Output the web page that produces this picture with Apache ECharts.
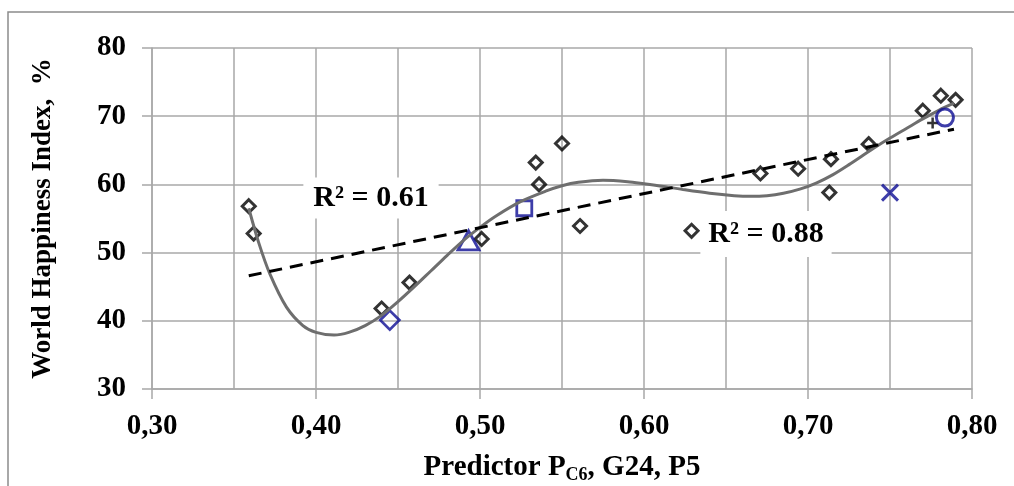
<!DOCTYPE html>
<html>
<head>
<meta charset="utf-8">
<script src="https://cdn.jsdelivr.net/npm/echarts@6/dist/echarts.min.js"></script>
<style>
  html, body { margin: 0; padding: 0; background: #fff; }
  #chart { width: 1014px; height: 486px; }
</style>
</head>
<body>
<div id="chart"></div>
<script>
// black diamonds (observed countries)
var diamondX = [0.359, 0.362, 0.440, 0.457, 0.501, 0.534, 0.536, 0.550, 0.561, 0.629,
                0.671, 0.694, 0.714, 0.713, 0.737, 0.770, 0.781, 0.790];
var diamondY = [56.8, 52.8, 41.8, 45.6, 52.0, 63.2, 60.0, 66.0, 53.9, 53.2,
                61.6, 62.3, 63.7, 58.8, 65.9, 70.8, 73.0, 72.4];

// highlighted points (blue)
var blueDiamond = [0.445, 40.1];
var blueTriangle = [0.493, 51.8];
var blueSquare = [0.527, 56.5];
var blueCross = [0.750, 58.8];
var blueCircle = [0.7835, 69.8];
var blackPlus = [0.776, 69.0];

// polynomial trend
var polyX = [0.359, 0.365, 0.372, 0.382, 0.392, 0.400, 0.411, 0.420, 0.430, 0.440,
             0.450, 0.460, 0.470, 0.480, 0.490, 0.500, 0.510, 0.525, 0.540, 0.550,
             0.560, 0.575, 0.590, 0.600, 0.612, 0.625, 0.640, 0.655, 0.665, 0.675,
             0.685, 0.695, 0.705, 0.715, 0.725, 0.740, 0.750, 0.760, 0.770, 0.780, 0.789];
var polyY = [56.5, 51.5, 46.8, 42.0, 39.3, 38.3, 37.9, 38.3, 39.3, 40.8,
             42.8, 45.0, 47.3, 49.6, 51.8, 53.7, 55.4, 57.5, 59.0, 59.8,
             60.3, 60.6, 60.4, 60.1, 59.7, 59.2, 58.7, 58.35, 58.25, 58.35,
             58.7, 59.3, 60.2, 61.4, 62.9, 65.3, 66.8, 68.2, 69.6, 70.9, 71.9];

// linear trend end points
var linX = [0.359, 0.789];
var linY = [46.6, 68.1];

var xTicks = [0.3, 0.8, 0.1];
var yTicks = [30, 80, 10];

function zip(a, b) {
  return a.map(function (v, i) { return [v, b[i]]; });
}

var FONT = '"Liberation Serif", "Times New Roman", serif';
var BLUE = '#0c0c94';
var GRID = '#a8a8a8';

var myChart = echarts.init(document.getElementById('chart'));

var hollow = function (color, w) {
  return { color: 'rgba(0,0,0,0)', borderColor: color, borderWidth: w };
};

var option = {
  animation: false,
  backgroundColor: '#fff',
  grid: {
    left: 152, right: 42, top: 48, bottom: 97,
    outerBoundsMode: 'none'
  },
  xAxis: {
    type: 'value',
    min: xTicks[0], max: xTicks[1], interval: xTicks[2],
    name: 'Predictor P{sub|C6}, G24, P5',
    nameLocation: 'middle',
    nameGap: 63,
    nameTextStyle: {
      fontFamily: FONT, fontSize: 29, fontWeight: 'bold', color: '#000',
      rich: {
        sub: { fontFamily: FONT, fontSize: 18, fontWeight: 'bold', color: '#000', padding: [14, 0, 0, 0] }
      }
    },
    axisLine: { show: true, lineStyle: { color: GRID, width: 1.5 } },
    axisTick: { show: true, length: 10, lineStyle: { color: GRID, width: 1.5 } },
    axisLabel: {
      fontFamily: FONT, fontSize: 29, fontWeight: 'bold', color: '#000', margin: 23,
      formatter: function (v) { return v.toFixed(2).replace('.', ','); }
    },
    splitLine: { show: true, lineStyle: { color: GRID, width: 1.5 } },
    minorTick: { show: false, splitNumber: 2 },
    minorSplitLine: { show: true, lineStyle: { color: GRID, width: 1.5 } }
  },
  yAxis: {
    type: 'value',
    min: yTicks[0], max: yTicks[1], interval: yTicks[2],
    name: 'World Happiness Index,  %',
    nameLocation: 'middle',
    nameRotate: 90,
    nameGap: 95,
    nameTextStyle: { fontFamily: FONT, fontSize: 27, fontWeight: 'bold', color: '#000' },
    axisLine: { show: true, lineStyle: { color: GRID, width: 1.5 } },
    axisTick: { show: true, length: 10, lineStyle: { color: GRID, width: 1.5 } },
    axisLabel: { fontFamily: FONT, fontSize: 29, fontWeight: 'bold', color: '#000', margin: 26 },
    splitLine: { show: true, lineStyle: { color: GRID, width: 1.5 } }
  },
  graphic: [
    {
      type: 'rect', silent: true,
      shape: { x: 8, y: 12, width: 1030, height: 500 },
      style: { fill: 'none', stroke: '#8c8c8c', lineWidth: 1.5 }
    },
    {
      type: 'text', x: 371, y: 198, z: 10,
      style: {
        text: 'R² = 0.61', font: 'bold 30px ' + FONT, fill: '#000',
        align: 'center', verticalAlign: 'middle',
        backgroundColor: '#fff', padding: [6, 10, 5, 10]
      }
    },
    {
      type: 'text', x: 766, y: 234, z: 10,
      style: {
        text: 'R² = 0.88', font: 'bold 30px ' + FONT, fill: '#000',
        align: 'center', verticalAlign: 'middle',
        backgroundColor: '#fff', padding: [8, 8, 8, 8]
      }
    }
  ],
  series: [
    {
      type: 'scatter', name: 'countries', z: 3,
      data: zip(diamondX, diamondY),
      symbol: 'diamond', symbolSize: 13,
      itemStyle: hollow('#000', 3)
    },
    {
      type: 'scatter', z: 3, data: [blueDiamond],
      symbol: 'diamond', symbolSize: 19, itemStyle: hollow(BLUE, 2.8)
    },
    {
      type: 'scatter', z: 3, data: [blueTriangle],
      symbol: 'triangle', symbolSize: [21, 19], itemStyle: hollow(BLUE, 2.8)
    },
    {
      type: 'scatter', z: 3, data: [blueSquare],
      symbol: 'rect', symbolSize: 15, itemStyle: hollow(BLUE, 2.8)
    },
    {
      type: 'scatter', z: 3, data: [blackPlus],
      symbol: 'path://M5,0L5,10M0,5L10,5', symbolSize: 11, itemStyle: hollow('#000', 2.5)
    },
    {
      type: 'line', name: 'poly', z: 4,
      data: zip(polyX, polyY),
      symbol: 'none', smooth: 0.3,
      lineStyle: { color: '#6e6e6e', width: 3 }
    },
    {
      type: 'line', name: 'linear', z: 4,
      data: zip(linX, linY),
      symbol: 'none',
      lineStyle: { color: '#000', width: 3, type: [13, 8] }
    },
    {
      type: 'scatter', z: 5, data: [blueCross],
      symbol: 'path://M0,0L10,10M10,0L0,10', symbolSize: 16, itemStyle: hollow(BLUE, 3)
    },
    {
      type: 'scatter', z: 5, data: [blueCircle],
      symbol: 'circle', symbolSize: 17, itemStyle: hollow(BLUE, 3)
    }
  ]
};

myChart.setOption(option);
</script>
</body>
</html>
